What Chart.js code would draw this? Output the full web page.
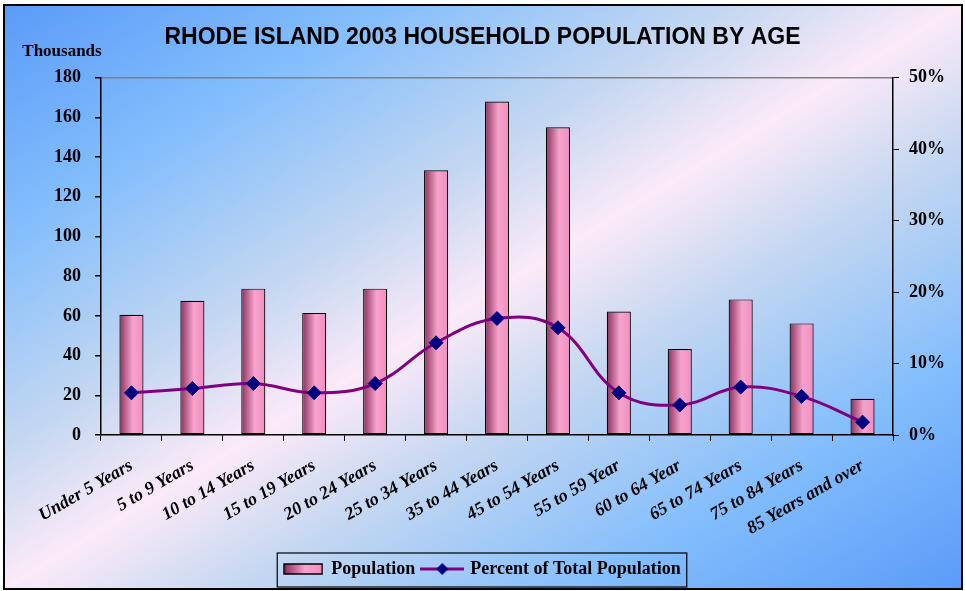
<!DOCTYPE html>
<html>
<head>
<meta charset="utf-8">
<script src="https://cdn.jsdelivr.net/npm/chart.js@4"></script>
<style>
  html, body { margin: 0; padding: 0; background: #fff; }
  #wrap { width: 965px; height: 591px; }
</style>
</head>
<body>
<div id="wrap"><canvas id="chart" width="965" height="591"></canvas></div>
<script>
const ageGroups = ["Under 5 Years", "5 to 9 Years", "10 to 14 Years", "15 to 19 Years", "20 to 24 Years",
  "25 to 34 Years", "35 to 44 Years", "45 to 54 Years", "55 to 59 Year", "60 to 64 Year",
  "65 to 74 Years", "75 to 84 Years", "85 Years and over"];
const population = [60.6, 67.6, 73.7, 61.5, 73.7, 133.3, 168, 155, 62.2, 43.3, 68.3, 56.2, 18.2];
const percentTotal = [5.9, 6.5, 7.2, 5.9, 7.2, 12.9, 16.3, 15.0, 5.9, 4.2, 6.7, 5.4, 1.8];
const leftTicks = { min: 0, max: 180, step: 20 };
const rightTicks = { min: 0, max: 50, step: 10 };

const serifBold = "'Liberation Serif', 'Times New Roman', serif";
const barPct = 0.395;

const barGradient = (ctx, x0, x1) => {
  const g = ctx.createLinearGradient(x0, 0, x1, 0);
  g.addColorStop(0, "#8a2f5c");
  g.addColorStop(0.55, "#f6a4cc");
  g.addColorStop(1, "#f38cc0");
  return g;
};

// legend icons
const barIcon = document.createElement("canvas");
barIcon.width = 40; barIcon.height = 12;
(() => {
  const c = barIcon.getContext("2d");
  c.fillStyle = barGradient(c, 1, 39);
  c.fillRect(1, 1, 38, 10);
  c.strokeStyle = "#000"; c.lineWidth = 1.5;
  c.strokeRect(1, 1, 38, 10);
})();
const lineIcon = document.createElement("canvas");
lineIcon.width = 44; lineIcon.height = 14;
(() => {
  const c = lineIcon.getContext("2d");
  c.strokeStyle = "#800080"; c.lineWidth = 3;
  c.beginPath(); c.moveTo(0, 7); c.lineTo(44, 7); c.stroke();
  c.fillStyle = "#000080";
  c.beginPath(); c.moveTo(22, 1); c.lineTo(28, 7); c.lineTo(22, 13); c.lineTo(16, 7); c.closePath(); c.fill();
})();

const frame = {
  id: "frame",
  beforeDraw(chart) {
    const { ctx, width, height } = chart;
    ctx.save();
    ctx.fillStyle = "#fff";
    ctx.fillRect(0, 0, width, height);
    const x0 = 4, y0 = 5, w = 958, h = 584;
    const cx = x0 + w / 2, cy = y0 + h / 2;
    const len = Math.hypot(w, h);
    const dx = h / len, dy = w / len;
    const L = w * h / len;
    const g = ctx.createLinearGradient(cx - dx * L, cy - dy * L, cx + dx * L, cy + dy * L);
    g.addColorStop(0, "#5b9bf8");
    g.addColorStop(0.2, "#84befc");
    g.addColorStop(0.38, "#c4d7f1");
    g.addColorStop(0.5, "#fbeaf8");
    g.addColorStop(0.62, "#c4d7f1");
    g.addColorStop(0.8, "#84befc");
    g.addColorStop(1, "#5b9bf8");
    ctx.fillStyle = g;
    ctx.fillRect(x0, y0, w, h);
    ctx.strokeStyle = "#000";
    ctx.lineWidth = 2;
    ctx.strokeRect(x0, y0, w, h);
    ctx.restore();
  },
  afterDraw(chart) {
    const { ctx } = chart;
    ctx.save();
    ctx.font = "bold 17px " + serifBold;
    ctx.fillStyle = "#000";
    ctx.textAlign = "center";
    ctx.textBaseline = "middle";
    ctx.fillText("Thousands", 62, 52);
    const lg = chart.legend;
    if (lg && lg.legendHitBoxes.length) {
      const boxes = lg.legendHitBoxes;
      const minX = Math.min(...boxes.map(b => b.left)) - 7;
      const maxX = Math.max(...boxes.map(b => b.left + b.width)) + 6;
      ctx.strokeStyle = "#000";
      ctx.lineWidth = 1.2;
      ctx.strokeRect(minX, lg.top + 1, maxX - minX, lg.height - 2);
    }
    ctx.restore();
  }
};

new Chart(document.getElementById("chart"), {
  data: {
    labels: ageGroups,
    datasets: [
      {
        type: "bar",
        label: "Population",
        data: population,
        yAxisID: "y1",
        order: 1,
        barPercentage: barPct,
        categoryPercentage: 1,
        borderColor: "#000",
        borderWidth: 1.2,
        borderSkipped: false,
        backgroundColor: (c) => {
          const chart = c.chart;
          const xs = chart.scales.x;
          if (!chart.chartArea || !xs || c.dataIndex === undefined) return "#e88bb8";
          const cx = xs.getPixelForValue(c.dataIndex);
          const half = xs.width / ageGroups.length * barPct / 2;
          return barGradient(chart.ctx, cx - half, cx + half);
        }
      },
      {
        type: "line",
        label: "Percent of Total Population",
        data: percentTotal,
        yAxisID: "y2",
        order: 0,
        borderColor: "#800080",
        borderWidth: 3,
        tension: 0.4,
        pointStyle: "rectRot",
        pointRadius: 7,
        pointBackgroundColor: "#000080",
        pointBorderColor: "#000080",
        pointBorderWidth: 1
      }
    ]
  },
  options: {
    responsive: false,
    animation: false,
    layout: { padding: { left: 0, right: 0, top: 0, bottom: 3 } },
    plugins: {
      title: {
        display: true,
        text: "RHODE ISLAND 2003 HOUSEHOLD POPULATION BY AGE",
        color: "#000",
        font: { family: "'Liberation Sans', Arial, sans-serif", size: 23, weight: "bold", lineHeight: 1.2 },
        padding: { top: 24, bottom: 26 }
      },
      legend: {
        position: "bottom",
        labels: {
          color: "#000",
          font: { family: serifBold, size: 18, weight: "bold" },
          padding: 8,
          usePointStyle: true,
          pointStyleWidth: 38,
          generateLabels: (chart) => {
            const items = Chart.defaults.plugins.legend.labels.generateLabels(chart);
            items.sort((a, b) => a.datasetIndex - b.datasetIndex);
            items.forEach(it => { it.pointStyle = it.datasetIndex === 0 ? barIcon : lineIcon; });
            return items;
          }
        }
      },
      tooltip: { enabled: false }
    },
    scales: {
      x: {
        offset: true,
        grid: { offset: true, drawOnChartArea: false, color: "#000", tickLength: 6 },
        border: { color: "#000", width: 1.5 },
        ticks: {
          color: "#000",
          autoSkip: false,
          minRotation: 30,
          maxRotation: 30,
          padding: 14,
          font: { family: serifBold, size: 18, weight: "bold", style: "italic" }
        },
        afterFit: (s) => { s.height = 117; }
      },
      y1: {
        position: "left",
        min: leftTicks.min,
        max: leftTicks.max,
        ticks: {
          stepSize: leftTicks.step,
          color: "#000",
          padding: 14,
          font: { family: serifBold, size: 18, weight: "bold" }
        },
        grid: {
          drawOnChartArea: true,
          tickLength: 6,
          color: (c) => c.tick && c.tick.value === leftTicks.max ? "#808080" : "rgba(0,0,0,0)",
          tickColor: "#000",
          lineWidth: 1.5
        },
        border: { color: "#000", width: 1.5 },
        afterFit: (s) => { s.width = 101; }
      },
      y2: {
        position: "right",
        min: rightTicks.min,
        max: rightTicks.max,
        ticks: {
          stepSize: rightTicks.step,
          color: "#000",
          padding: 10,
          font: { family: serifBold, size: 18, weight: "bold" },
          callback: (v) => v + "%"
        },
        grid: { drawOnChartArea: false, tickLength: 6, color: "#000" },
        border: { color: "#000", width: 1.5 },
        afterFit: (s) => { s.width = 72; }
      }
    }
  },
  plugins: [frame]
});
</script>
</body>
</html>
